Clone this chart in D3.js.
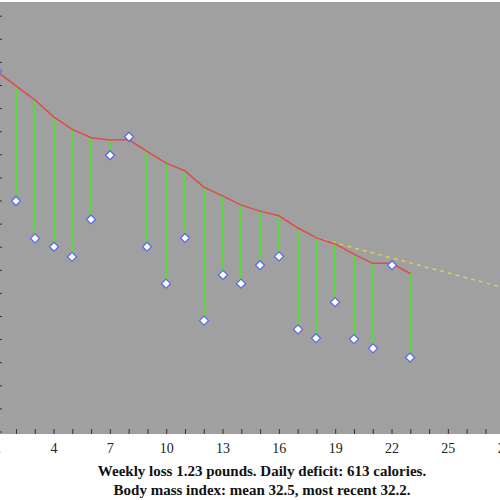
<!DOCTYPE html>
<html><head><meta charset="utf-8">
<script src="https://cdn.jsdelivr.net/npm/d3@7"></script>
<style>body{margin:0;background:#fff}svg{display:block}</style>
</head><body>
<svg id="c" width="500" height="500"></svg>
<script>
const days = d3.range(1, 24);
const weights = [199.80,196.99,196.18,196.00,195.78,196.59,197.98,198.38,196.00,195.20,196.19,194.40,195.39,195.20,195.60,195.79,194.21,194.02,194.80,194.00,193.80,195.60,193.60];
const trend = [199.79,199.48,199.18,198.81,198.54,198.36,198.31,198.32,198.06,197.81,197.64,197.29,197.10,196.90,196.77,196.67,196.41,196.19,196.06,195.84,195.64,195.64,195.42];
const projDays = [18, 28];
const projValues = [196.19, 195.11];
const xTickLabels = [1,4,7,10,13,16,19,22,25,28];
const yTicks = d3.range(192, 201.01, 0.5);
const captionLines = ["Weekly loss 1.23 pounds. Daily deficit: 613 calories.",
                      "Body mass index: mean 32.5, most recent 32.2."];

const svg = d3.select("#c");
const plotTop = 2, plotBottom = 434;
const x = d3.scaleLinear().domain([1, 28]).range([-2.8, 504.2]);
const y = d3.scaleLinear().domain([192, 201]).range([431.5, 15.7]);

svg.append("rect").attr("x", 0).attr("y", plotTop).attr("width", 500).attr("height", plotBottom - plotTop).attr("fill", "#a0a0a0");

// x axis ticks (every day), pointing up
const xAxis = d3.axisTop(x).tickValues(d3.range(1, 29)).tickSize(5).tickFormat("");
const gx = svg.append("g").attr("transform", `translate(0,${plotBottom})`).call(xAxis);
gx.select(".domain").remove();
gx.selectAll(".tick line").attr("stroke", "#333").attr("stroke-width", 1);

// x labels
const xLab = d3.axisBottom(x).tickValues(xTickLabels).tickSize(0).tickPadding(9).tickFormat(d3.format("d"));
const gxl = svg.append("g").attr("transform", `translate(0,${plotBottom})`).call(xLab);
gxl.select(".domain").remove();
gxl.selectAll("text").attr("font-family", "Liberation Serif, serif").attr("font-size", 14).attr("fill", "#222");

// y ticks at left edge
const yAxis = d3.axisRight(y).tickValues(yTicks).tickSize(2).tickFormat("");
const gy = svg.append("g").attr("transform", "translate(0,0)").call(yAxis);
gy.select(".domain").remove();
gy.selectAll(".tick line").attr("stroke", "#333");

// projection dashed line
svg.append("path")
  .datum(projDays.map((d, i) => [d, projValues[i]]))
  .attr("d", d3.line().x(d => x(d[0])).y(d => y(d[1])))
  .attr("fill", "none").attr("stroke", "#d9cf55").attr("stroke-width", 1.5).attr("stroke-dasharray", "4,4");

// green residual lines
svg.append("g").selectAll("line").data(days).join("line")
  .attr("x1", (d) => Math.round(x(d))).attr("x2", (d) => Math.round(x(d)))
  .attr("y1", (d, i) => y(trend[i])).attr("y2", (d, i) => y(weights[i]))
  .attr("stroke", "#5ad83e").attr("stroke-width", 2);

// trend line
svg.append("path")
  .datum(days.map((d, i) => [d, trend[i]]))
  .attr("d", d3.line().x(d => x(d[0])).y(d => y(d[1])))
  .attr("fill", "none").attr("stroke", "#e04a4a").attr("stroke-width", 1.5);

// diamonds
svg.append("g").selectAll("path").data(days).join("path")
  .attr("transform", (d, i) => `translate(${Math.round(x(d))},${y(weights[i])})`)
  .attr("d", "M0,-4.5L4.5,0L0,4.5L-4.5,0Z")
  .attr("fill", "#ffffff").attr("stroke", "#5a6ae6").attr("stroke-width", 1.3);

// caption
svg.append("g").selectAll("text").data(captionLines).join("text")
  .attr("x", 262).attr("y", (d, i) => 476 + i * 19)
  .attr("text-anchor", "middle")
  .attr("font-family", "Liberation Serif, serif").attr("font-weight", "bold").attr("font-size", 15)
  .attr("fill", "#111")
  .text(d => d);
</script>
</body></html>
